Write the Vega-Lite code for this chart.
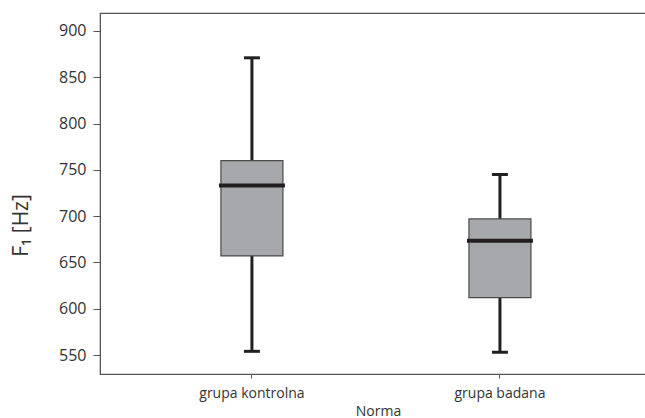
{
  "$schema": "https://vega.github.io/schema/vega-lite/v6.json",
  "autosize": {"type": "none"},
  "padding": {"left": 100, "top": 13, "right": 0, "bottom": 44},
  "width": 548,
  "height": 361,
  "background": "white",
  "config": {
    "font": "Open Sans",
    "view": {"stroke": "#555555", "strokeWidth": 1.2},
    "axis": {"grid": false, "domainColor": "#555555", "tickColor": "#555555", "labelColor": "#333333", "titleColor": "#333333", "titleFontWeight": "normal", "labelFont": "Open Sans", "titleFont": "Open Sans"}
  },
  "data": {
    "values": [
      {"group": "grupa kontrolna", "lower": 554, "q1": 657, "median": 733, "q3": 760, "upper": 871},
      {"group": "grupa badana", "lower": 553, "q1": 612, "median": 673.5, "q3": 697, "upper": 745}
    ]
  },
  "encoding": {
    "x": {
      "field": "group", "type": "nominal", "sort": ["grupa kontrolna", "grupa badana"],
      "scale": {"type": "band", "paddingInner": 0.5, "paddingOuter": 0.3548, "align": 0.511},
      "axis": {"title": "Norma", "labelAngle": 0, "labelFontSize": 14, "titleFontSize": 14, "tickSize": 4, "labelPadding": 8, "titleX": 278, "titleY": 41, "titleBaseline": "alphabetic", "titleAlign": "center"}
    }
  },
  "layer": [
    {
      "mark": {"type": "rule", "color": "#231f20", "strokeWidth": 3},
      "encoding": {
        "y": {"field": "lower", "type": "quantitative", "scale": {"domain": [529.5, 919.4], "nice": false, "zero": false},
          "axis": {"title": "F₁ [Hz]", "values": [550, 600, 650, 700, 750, 800, 850, 900], "labelFontSize": 16, "titleFontSize": 21, "tickSize": 7, "labelPadding": 7, "titleX": -73, "titleY": 212, "titleAlign": "center", "titleBaseline": "alphabetic", "titleAngle": -90}},
        "y2": {"field": "upper"}
      }
    },
    {
      "mark": {"type": "bar", "size": 62, "fill": "#a7a8ab", "stroke": "#4a4a4a", "strokeWidth": 1.2},
      "encoding": {
        "y": {"field": "q1", "type": "quantitative"},
        "y2": {"field": "q3"}
      }
    },
    {
      "mark": {"type": "tick", "size": 66, "thickness": 4, "color": "#231f20", "opacity": 1},
      "encoding": {"y": {"field": "median", "type": "quantitative"}}
    },
    {
      "mark": {"type": "tick", "size": 16, "thickness": 3, "color": "#231f20", "opacity": 1},
      "encoding": {"y": {"field": "lower", "type": "quantitative"}}
    },
    {
      "mark": {"type": "tick", "size": 16, "thickness": 3, "color": "#231f20", "opacity": 1},
      "encoding": {"y": {"field": "upper", "type": "quantitative"}}
    }
  ]
}
